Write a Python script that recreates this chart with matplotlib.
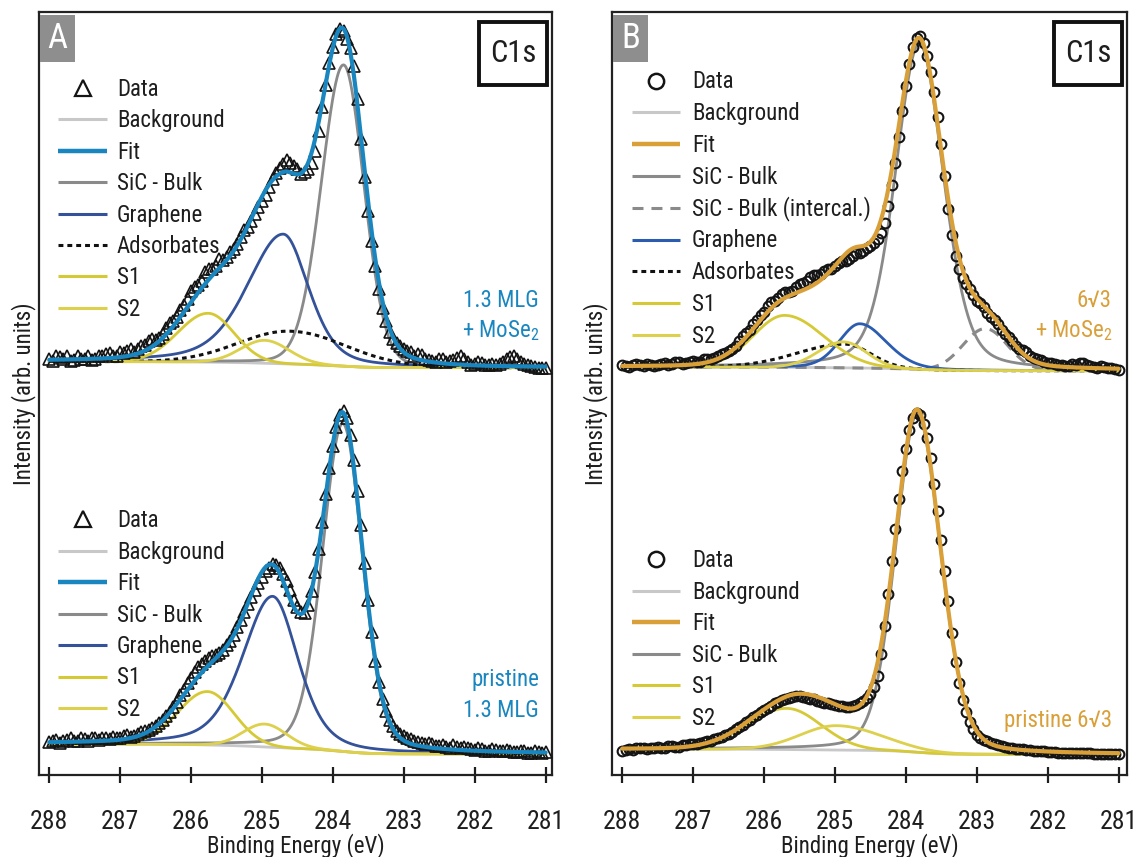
import numpy as np
import matplotlib
matplotlib.use("Agg")
import matplotlib.pyplot as plt
from matplotlib.patches import Rectangle

plt.rcParams['font.family'] = ['Roboto Condensed', 'Liberation Sans Narrow', 'DejaVu Sans']
plt.rcParams['mathtext.fontset'] = 'custom'
plt.rcParams['mathtext.rm'] = 'Roboto Condensed'

# ---------------- data ----------------
energy_ticks = [288, 287, 286, 285, 284, 283, 282, 281]
energy = np.linspace(288.0, 281.0, 141)         # measured binding energies (eV), 0.05 eV steps
OFFSET_TOP = 50.0                               # vertical stacking offset

a_top_data = [4.6, 4.3, 4.9, 4.8, 4.5, 4.9, 4.3, 4.4, 4.9, 4.5,
              4.6, 5.0, 4.4, 4.6, 5.0, 4.9, 5.2, 5.3, 4.9, 5.0,
              5.4, 5.3, 5.6, 5.8, 5.5, 5.9, 6.3, 6.4, 6.9, 7.1,
              7.0, 7.3, 7.8, 8.6, 9.2, 9.5, 10.1, 11.0, 11.6, 12.4,
              13.4, 14.0, 14.2, 14.8, 15.9, 16.3, 16.4, 16.8, 17.6, 17.5,
              17.9, 18.6, 19.0, 19.6, 20.6, 21.4, 21.9, 22.6, 23.6, 24.5,
              25.3, 26.1, 27.1, 28.1, 28.9, 29.6, 30.1, 30.6, 30.3, 29.9,
              29.4, 28.8, 29.0, 29.4, 30.2, 31.8, 34.4, 37.6, 40.5, 43.3,
              45.4, 47.2, 47.8, 47.6, 46.5, 45.3, 43.0, 38.6, 33.4, 28.4,
              23.9, 20.0, 16.8, 13.7, 11.2, 9.5, 8.1, 7.2, 6.6, 6.3,
              5.9, 5.6, 5.4, 5.0, 5.2, 5.1, 4.6, 4.4, 4.3, 4.1,
              4.5, 4.6, 4.2, 4.3, 4.4, 4.7, 4.9, 4.6, 4.1, 3.8,
              3.9, 4.2, 4.0, 3.8, 3.7, 3.9, 3.8, 3.9, 4.1, 4.6,
              4.8, 5.0, 4.6, 4.2, 3.9, 3.7, 3.6, 3.5, 3.4, 3.3,
              3.3]
a_bot_data = [4.3, 4.5, 4.6, 4.2, 4.4, 4.6, 4.8, 4.4, 4.5, 4.8,
              4.7, 4.5, 4.9, 4.8, 4.6, 4.9, 4.8, 4.7, 5.0, 4.8,
              4.9, 5.1, 5.2, 5.0, 5.1, 5.4, 5.6, 5.8, 5.9, 6.1,
              6.4, 6.8, 7.2, 7.7, 8.3, 8.9, 9.6, 10.5, 11.2, 12.0,
              12.7, 13.5, 14.1, 14.6, 15.0, 15.4, 15.6, 15.7, 16.0, 16.4,
              17.0, 17.6, 18.3, 19.4, 20.3, 21.4, 22.4, 23.4, 24.3, 25.2,
              25.9, 26.7, 27.2, 27.6, 27.5, 27.2, 26.4, 25.4, 24.2, 23.0,
              22.0, 21.4, 21.3, 22.3, 24.1, 26.6, 29.6, 33.2, 36.8, 40.3,
              43.2, 45.6, 47.2, 47.7, 46.8, 44.6, 41.3, 37.3, 32.8, 27.8,
              23.0, 18.8, 15.0, 12.2, 10.0, 8.4, 7.2, 6.4, 5.8, 5.4,
              5.1, 4.8, 4.7, 4.4, 4.3, 4.2, 4.1, 4.2, 4.0, 3.8,
              3.8, 3.9, 3.7, 3.6, 3.9, 3.7, 3.6, 3.7, 3.5, 3.4,
              3.3, 3.5, 3.4, 3.2, 3.2, 3.4, 3.3, 3.1, 3.1, 3.3,
              3.2, 3.0, 3.0, 3.2, 3.1, 2.9, 2.9, 3.1, 3.0, 2.9,
              3.0]
b_top_data = [3.8, 3.6, 3.5, 3.8, 3.9, 3.7, 3.6, 3.9, 3.8, 3.6,
              3.7, 3.9, 4.0, 3.8, 3.9, 4.1, 4.1, 3.9, 4.0, 4.2,
              4.3, 4.1, 4.2, 4.5, 4.6, 4.5, 4.7, 5.0, 5.2, 5.3,
              5.6, 5.9, 6.3, 6.9, 7.5, 7.9, 8.4, 9.1, 9.7, 10.3,
              10.7, 11.5, 12.0, 12.2, 12.6, 13.1, 13.3, 13.3, 13.5, 14.0,
              14.4, 14.5, 14.8, 15.3, 15.5, 15.5, 15.7, 16.1, 16.4, 16.4,
              16.7, 17.1, 17.4, 17.4, 17.7, 18.1, 18.4, 18.5, 18.7, 19.1,
              19.4, 19.7, 20.3, 21.1, 22.4, 24.6, 27.3, 30.3, 33.6, 37.1,
              40.3, 43.2, 45.4, 46.6, 46.9, 46.0, 44.3, 42.2, 39.6, 36.3,
              32.7, 28.5, 24.2, 20.8, 18.0, 16.4, 15.1, 14.4, 13.7, 12.9,
              12.2, 11.9, 11.4, 10.6, 10.0, 9.6, 9.1, 8.4, 7.8, 7.4,
              6.9, 6.3, 5.8, 5.7, 5.4, 4.9, 4.7, 4.6, 4.4, 4.1,
              4.0, 4.0, 3.9, 3.7, 3.7, 3.6, 3.6, 3.9, 3.8, 4.0,
              4.0, 3.8, 3.6, 3.5, 3.4, 3.6, 3.5, 3.3, 3.3, 3.2,
              3.1]
b_bot_data = [3.2, 3.3, 3.4, 3.3, 3.5, 3.6, 3.6, 3.4, 3.5, 3.6,
              3.7, 3.5, 3.6, 3.8, 3.8, 3.7, 3.7, 3.9, 3.9, 4.0,
              4.1, 4.0, 4.2, 4.3, 4.4, 4.5, 4.7, 4.8, 5.0, 5.2,
              5.4, 5.7, 6.0, 6.3, 6.6, 6.9, 7.2, 7.6, 7.9, 8.2,
              8.5, 8.8, 9.1, 9.4, 9.6, 9.8, 9.9, 10.1, 10.2, 10.3,
              10.3, 10.2, 10.1, 10.0, 9.9, 9.7, 9.6, 9.5, 9.4, 9.3,
              9.2, 9.1, 9.0, 8.9, 8.9, 9.0, 9.2, 9.4, 9.7, 10.1,
              10.6, 11.5, 13.0, 15.8, 19.5, 23.7, 28.0, 32.3, 36.2, 39.8,
              42.8, 45.2, 46.8, 47.5, 47.2, 46.0, 44.2, 41.5, 38.1, 34.6,
              30.8, 26.7, 22.8, 18.6, 14.8, 12.0, 9.8, 8.2, 7.0, 6.0,
              5.3, 4.9, 4.6, 4.4, 4.2, 4.0, 3.9, 3.8, 3.7, 3.6,
              3.5, 3.45, 3.4, 3.35, 3.3, 3.25, 3.2, 3.15, 3.1, 3.1,
              3.05, 3.0, 3.0, 2.95, 2.95, 2.9, 2.9, 2.9, 2.9, 2.85,
              2.85, 2.85, 2.85, 2.8, 2.8, 2.8, 2.8, 2.75, 2.75, 2.7,
              2.7]

# fitted components: [centre eV, height, HWHM high-BE side, HWHM low-BE side, Lorentz fraction]
a_top_peaks = {'sic': [283.85, 39.5, 0.37, 0.34, 0.10],
               'graphene': [284.70, 17.0, 0.60, 0.42, 0.40],
               'ads': [284.60, 4.3, 0.85, 0.95, 0.0],
               's1': [285.76, 6.4, 0.50, 0.43, 0.0],
               's2': [284.96, 3.0, 0.40, 0.40, 0.0]}
a_top_bg = [4.2, 3.4]           # Shirley background level at 288 eV / 281 eV
a_bot_peaks = {'sic': [283.86, 43.0, 0.34, 0.326, 0.20],
               'graphene': [284.85, 19.8, 0.50, 0.42, 0.40],
               's1': [285.77, 7.0, 0.49, 0.44, 0.0],
               's2': [284.96, 3.0, 0.36, 0.36, 0.0]}
a_bot_bg = [4.05, 2.75]
b_top_peaks = {'sic': [283.81, 42.7, 0.40, 0.40, 0.30],
               'intercal': [282.88, 5.5, 0.37, 0.37, 0.0],
               'graphene': [284.65, 5.8, 0.34, 0.44, 0.20],
               'ads': [284.85, 3.1, 0.80, 0.42, 0.0],
               's1': [285.71, 6.8, 0.52, 0.65, 0.0],
               's2': [284.88, 3.4, 0.42, 0.38, 0.0]}
b_top_bg = [3.5, 3.0]
b_bot_peaks = {'sic': [283.84, 44.3, 0.36, 0.39, 0.20],
               's1': [285.68, 5.4, 0.65, 0.57, 0.0],
               's2': [284.98, 3.2, 0.60, 0.75, 0.0]}
b_bot_bg = [3.4, 2.7]

# ---------------- style ----------------
C_BG = '#c8c8c8'
C_SIC = '#8a8a8a'
C_NAVY = '#34529a'
C_BLUE_B = '#2c5cb0'
C_FIT_A = '#1a86bf'
C_FIT_B = '#d9a03a'
C_S1 = '#d6c936'
C_S2 = '#dcd04c'
C_TXT = '#1e1e1e'
LEG_FS = 16.5

W, H = 1133, 857
fig = plt.figure(figsize=(W / 100, H / 100), dpi=100)
boxA = (39.3, 552.0, 12.3, 775.0)
boxB = (612.3, 1127.3, 12.3, 775.0)


def add_axes(box):
    L, R, T, B = box
    return fig.add_axes([L / W, 1 - B / H, (R - L) / W, (B - T) / H])


def px2ax(box, px, py):
    L, R, T, B = box
    return (px - L) / (R - L), (B - py) / (B - T)


def peak(E, c, h, whi, wlo, eta):
    w = np.where(E >= c, whi, wlo)
    x = (E - c) / w
    return h * ((1 - eta) * np.exp(-np.log(2) * x ** 2) + eta / (1 + x ** 2))


E_f = np.linspace(281.0, 288.0, 1401)


def draw_spectrum(ax, data, peaks, bgpar, offset, styles, fitc, marker, ms, mew):
    comps = {k: peak(E_f, *v) for k, v in peaks.items()}
    total = sum(comps.values())
    F = np.cumsum(total)
    F = F / F[-1]
    bg = bgpar[1] + (bgpar[0] - bgpar[1]) * F
    ax.plot(E_f, bg + offset, color=C_BG, lw=2.0, zorder=2)
    for k, comp in comps.items():
        ax.plot(E_f, bg + comp + offset, zorder=3, **styles[k])
    ax.plot(energy, np.asarray(data) + offset, linestyle='none', marker=marker, ms=ms,
            mfc='none', mec='#141414', mew=mew, zorder=4)
    ax.plot(E_f, bg + total + offset, color=fitc, lw=3.0, zorder=5, solid_capstyle='round')


def draw_legend(ax, box, entries, hx0, hx1, mx, tx, y0, step):
    for i, (label, kw) in enumerate(entries):
        py = y0 + i * step
        if 'marker' in kw:
            x, y = px2ax(box, mx, py)
            ax.plot([x], [y], transform=ax.transAxes, clip_on=False, linestyle='none', **kw)
        else:
            xa, y = px2ax(box, hx0, py)
            xb, _ = px2ax(box, hx1, py)
            ax.plot([xa, xb], [y, y], transform=ax.transAxes, clip_on=False,
                    solid_capstyle='butt', dash_capstyle='butt', **kw)
        xt, yt = px2ax(box, tx, py + 8)
        ax.text(xt, yt, label, transform=ax.transAxes, fontsize=LEG_FS, va='baseline',
                ha='left', color=C_TXT)


def style_axes(ax, box, xlim, letter, ylab_x):
    ax.set_xlim(*xlim)
    ax.set_ylim(0, 100)
    ax.set_xticks(energy_ticks)
    ax.set_xticklabels([str(t) for t in energy_ticks])
    ax.set_yticks([])
    ax.tick_params(axis='x', direction='inout', length=12, width=1.6, pad=19,
                   labelsize=18.5, colors=C_TXT)
    for s in ax.spines.values():
        s.set_linewidth(1.6)
        s.set_color('#222222')
    ax.set_xlabel('Binding Energy (eV)', fontsize=16.5, color=C_TXT)
    ax.xaxis.set_label_coords(0.5, (775 - 833) / 762.7)
    ax.set_ylabel('Intensity (arb. units)', fontsize=16.5, color=C_TXT)
    ax.yaxis.set_label_coords(ylab_x, 0.5)
    L = box[0]
    # panel letter
    x0, y0 = px2ax(box, L + 0.7, 62)
    x1, y1 = px2ax(box, L + 35.7, 15)
    ax.add_patch(Rectangle((x0, y0), x1 - x0, y1 - y0, transform=ax.transAxes,
                           facecolor='#8e8e8e', edgecolor='none', zorder=6))
    xc, yc = px2ax(box, L + 18.2, 38.5)
    ax.text(xc, yc, letter, transform=ax.transAxes, fontsize=25, color='white',
            ha='center', va='center', zorder=7)
    # C1s box
    R = box[1]
    x0, y0 = px2ax(box, R - 73, 85)
    x1, y1 = px2ax(box, R - 5, 22)
    ax.add_patch(Rectangle((x0, y0), x1 - x0, y1 - y0, transform=ax.transAxes,
                           facecolor='white', edgecolor='#111111', lw=2.8, zorder=6))
    xc, yc = px2ax(box, R - 39, 54)
    ax.text(xc, yc, 'C1s', transform=ax.transAxes, fontsize=22, color=C_TXT,
            ha='center', va='center', zorder=7)


def note(ax, box, px, py, s, color):
    x, y = px2ax(box, px, py)
    ax.text(x, y, s, transform=ax.transAxes, fontsize=16.5, color=color,
            ha='right', va='baseline', zorder=7)


# ---------------- panel A ----------------
axA = add_axes(boxA)
stA = {'sic': dict(color=C_SIC, lw=2.0),
       'graphene': dict(color=C_NAVY, lw=2.0),
       'ads': dict(color='#111111', lw=2.2, linestyle=(0, (1.5, 1.3))),
       's1': dict(color=C_S1, lw=2.0),
       's2': dict(color=C_S2, lw=2.0)}
draw_spectrum(axA, a_top_data, a_top_peaks, a_top_bg, OFFSET_TOP, stA, C_FIT_A, '^', 8.0, 1.2)
draw_spectrum(axA, a_bot_data, a_bot_peaks, a_bot_bg, 0.0, stA, C_FIT_A, '^', 8.0, 1.2)
style_axes(axA, boxA, (288.141, 280.91), 'A', -0.0064)

triA = dict(marker='^', ms=12, mfc='none', mec='#141414', mew=1.6)
legA_top = [('Data', triA),
            ('Background', dict(color=C_BG, lw=2.2)),
            ('Fit', dict(color=C_FIT_A, lw=3.2)),
            ('SiC - Bulk', dict(color=C_SIC, lw=2.2)),
            ('Graphene', dict(color=C_NAVY, lw=2.2)),
            ('Adsorbates', dict(color='#111111', lw=2.2, linestyle=(0, (1.6, 1.3)))),
            ('S1', dict(color=C_S1, lw=2.2)),
            ('S2', dict(color=C_S2, lw=2.2))]
draw_legend(axA, boxA, legA_top, 58, 107, 83, 117, 88, 31.4)
legA_bot = [e for e in legA_top if e[0] != 'Adsorbates']
draw_legend(axA, boxA, legA_bot, 58, 107, 83, 117, 519, 31.5)
note(axA, boxA, 539, 307, '1.3 MLG', C_FIT_A)
note(axA, boxA, 539, 337, r'+ MoSe$_\mathregular{2}$', C_FIT_A)
note(axA, boxA, 539, 686, 'pristine', C_FIT_A)
note(axA, boxA, 539, 717, '1.3 MLG', C_FIT_A)

# ---------------- panel B ----------------
axB = add_axes(boxB)
stB = {'sic': dict(color=C_SIC, lw=2.0),
       'intercal': dict(color=C_SIC, lw=2.2, linestyle=(0, (3.6, 2.6))),
       'graphene': dict(color=C_BLUE_B, lw=2.0),
       'ads': dict(color='#111111', lw=2.2, linestyle=(0, (1.5, 1.3))),
       's1': dict(color=C_S1, lw=2.0),
       's2': dict(color=C_S2, lw=2.0)}
draw_spectrum(axB, b_top_data, b_top_peaks, b_top_bg, OFFSET_TOP, stB, C_FIT_B, 'o', 7.0, 1.5)
draw_spectrum(axB, b_bot_data, b_bot_peaks, b_bot_bg, 0.0, stB, C_FIT_B, 'o', 7.0, 1.5)
style_axes(axB, boxB, (288.141, 280.877), 'B', -0.0074)

cirB = dict(marker='o', ms=11, mfc='none', mec='#141414', mew=1.8)
legB_top = [('Data', cirB),
            ('Background', dict(color=C_BG, lw=2.2)),
            ('Fit', dict(color=C_FIT_B, lw=3.2)),
            ('SiC - Bulk', dict(color=C_SIC, lw=2.2)),
            ('SiC - Bulk (intercal.)', dict(color=C_SIC, lw=2.2, linestyle=(0, (3.6, 2.6)))),
            ('Graphene', dict(color=C_BLUE_B, lw=2.2)),
            ('Adsorbates', dict(color='#111111', lw=2.2, linestyle=(0, (1.6, 1.3)))),
            ('S1', dict(color=C_S1, lw=2.2)),
            ('S2', dict(color=C_S2, lw=2.2))]
draw_legend(axB, boxB, legB_top, 632, 680, 656, 692, 80.5, 31.8)
legB_bot = [e for e in legB_top if e[0] not in ('SiC - Bulk (intercal.)', 'Graphene', 'Adsorbates')]
draw_legend(axB, boxB, legB_bot, 632, 680, 656, 692, 559, 31.6)
note(axB, boxB, 1112, 307, '6\u221a3', C_FIT_B)
note(axB, boxB, 1112, 337, r'+ MoSe$_\mathregular{2}$', C_FIT_B)
note(axB, boxB, 1112, 727, 'pristine 6\u221a3', C_FIT_B)

fig.savefig('out.png', dpi=100)
